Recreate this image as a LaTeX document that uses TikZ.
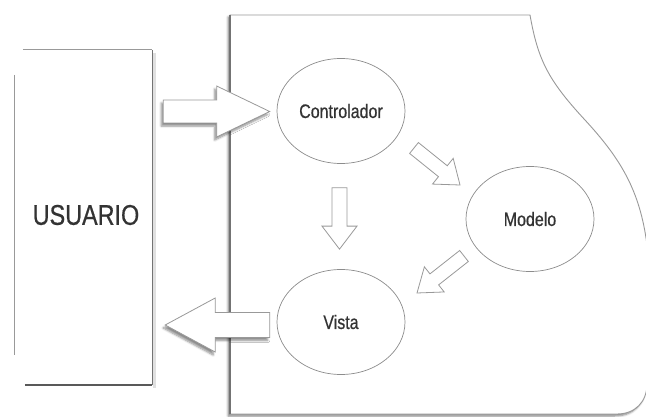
\documentclass[tikz,border=0pt]{standalone}
\usepackage{fontspec}
\setmainfont{Liberation Sans}[FakeStretch=0.82,FakeBold=0.6]
\usetikzlibrary{shapes.geometric,calc,shadows.blur}
\newcommand\blockarrow[6][]{%
  \coordinate (bah) at ($(#3)!#6!(#2)$);
  \draw[barrow,#1] ($(#2)!#4!90:(#3)$) -- ($(bah)!#4!90:(#3)$) -- ($(bah)!#5!90:(#3)$) -- (#3)
     -- ($(bah)!#5!-90:(#3)$) -- ($(bah)!#4!-90:(#3)$) -- ($(#2)!#4!-90:(#3)$) -- cycle;}
\begin{document}
\begin{tikzpicture}[x=1pt,y=-1pt,
  edge/.style={draw=black!40, line width=0.9pt},
  bub/.style={ellipse, draw=black!45, line width=0.7pt, fill=white, minimum width=128pt,
    minimum height=105pt, inner sep=0pt, font=\fontsize{19.5}{20}\selectfont, text=black!80},
  barrow/.style={draw=black!40, line width=0.8pt, fill=white, line join=miter},
  bigshadow/.style={blur shadow={shadow xshift=-2pt, shadow yshift=-3pt, shadow blur steps=6, shadow opacity=45}}]
\useasboundingbox (0,0) rectangle (646,417);
% system shape
\draw[edge, fill=white, blur shadow={shadow xshift=-2pt, shadow yshift=-2pt, shadow blur steps=5, shadow opacity=50}]
  (230,15) -- (530,15) .. controls (538,60) and (548,80) .. (585,120)
  .. controls (620,158) and (640,190) .. (647,245) -- (647,384)
  .. controls (647,402) and (635,414) .. (617,414) -- (230,414) -- cycle;
\draw[black!55, line width=2.2pt] (230,15) -- (230,414);
% user box
\node[minimum width=137pt, minimum height=335pt, inner sep=0pt] (user) at (83.5,217.5) {};
\fill[white] (user.north west) rectangle (user.south east);
\draw[edge] ($(user.north west)+(8,0)$) -- (user.north east);
\draw[black!12, line width=3pt] ($(user.north east)+(2.5,3)$) -- ($(user.south east)+(2.5,3)$);
\draw[edge, draw=black!55] (user.north east) -- (user.south east);
\draw[black!65, line width=1.8pt] ($(user.south west)+(10,0)$) -- (user.south east);
\draw[edge] ($(user.north west)+(0,25)$) -- ($(user.south west)+(0,-30)$);
\node[font=\fontsize{28.5}{30}\selectfont, text=black!80] (usertext) at (86,215) {USUARIO};
% components
\node[bub] (ctrl) at (341,111) {Controlador};
\node[bub] (model) at (530,219) {Modelo};
\node[bub] (vista) at (341,322) {Vista};
% arrow end points
\coordinate (a1s) at ($(user.east |- ctrl)+(11,0.5)$);
\coordinate (a1e) at ($(ctrl.west)+(-7,0.5)$);
\coordinate (a2s) at ($(vista.west)+(-7,3)$);
\coordinate (a2e) at ($(user.east |- vista)+(13,3)$);
\coordinate (a3s) at ($(ctrl.south)+(-1.5,24)$);
\coordinate (a3e) at ($(vista.north)+(-1.5,-20)$);
\coordinate (a4s) at (414,148);
\coordinate (a4e) at (460,185);
\coordinate (a5s) at (464,256);
\coordinate (a5e) at (417,293);
% arrows
\blockarrow[bigshadow]{a1s}{a1e}{11.5pt}{25.5pt}{53pt}
\blockarrow[bigshadow]{a2s}{a2e}{12.5pt}{27pt}{50pt}
\blockarrow{a3s}{a3e}{7.5pt}{17.5pt}{23pt}
\blockarrow{a4s}{a4e}{7pt}{16.5pt}{22pt}
\blockarrow{a5s}{a5e}{7pt}{16pt}{22pt}
\end{tikzpicture}
\end{document}
